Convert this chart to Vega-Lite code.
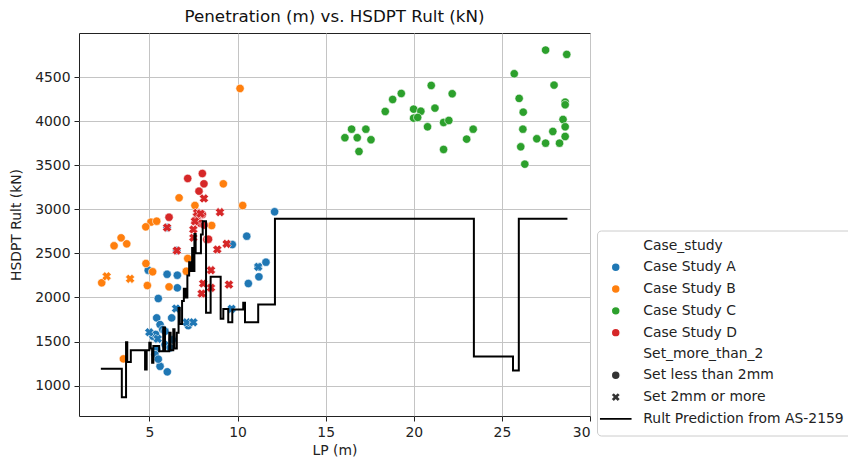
{
  "$schema": "https://vega.github.io/schema/vega-lite/v6.json",
  "width": 511,
  "height": 383,
  "autosize": "none",
  "padding": {"left": 79, "top": 33, "right": 258, "bottom": 47},
  "background": "white",
  "title": {"text": "Penetration (m) vs. HSDPT Rult (kN)", "font": "DejaVu Sans", "fontSize": 16.7, "fontWeight": "normal", "color": "#111", "offset": 7},
  "config": {
    "view": {"stroke": "#222", "strokeWidth": 1},
    "axis": {"labelFont": "DejaVu Sans", "labelFontSize": 13.9, "labelColor": "#222", "titleFont": "DejaVu Sans", "titleFontSize": 13.9, "titleFontWeight": "normal", "titleColor": "#222", "tickColor": "#222", "tickSize": 5, "domain": false, "gridColor": "#c4c4c4", "gridWidth": 1, "labelPadding": 4}
  },
  "datasets": {
    "points": [
      {"LP": 4.93, "Rult": 2309, "Case": "Case Study A", "Set": "Set less than 2mm"},
      {"LP": 6.00, "Rult": 2263, "Case": "Case Study A", "Set": "Set less than 2mm"},
      {"LP": 6.58, "Rult": 2252, "Case": "Case Study A", "Set": "Set less than 2mm"},
      {"LP": 6.58, "Rult": 2109, "Case": "Case Study A", "Set": "Set less than 2mm"},
      {"LP": 5.50, "Rult": 1988, "Case": "Case Study A", "Set": "Set less than 2mm"},
      {"LP": 5.41, "Rult": 1768, "Case": "Case Study A", "Set": "Set less than 2mm"},
      {"LP": 6.26, "Rult": 1768, "Case": "Case Study A", "Set": "Set less than 2mm"},
      {"LP": 5.60, "Rult": 1692, "Case": "Case Study A", "Set": "Set less than 2mm"},
      {"LP": 5.75, "Rult": 1636, "Case": "Case Study A", "Set": "Set less than 2mm"},
      {"LP": 5.88, "Rult": 1465, "Case": "Case Study A", "Set": "Set less than 2mm"},
      {"LP": 5.41, "Rult": 1409, "Case": "Case Study A", "Set": "Set less than 2mm"},
      {"LP": 5.31, "Rult": 1352, "Case": "Case Study A", "Set": "Set less than 2mm"},
      {"LP": 5.60, "Rult": 1219, "Case": "Case Study A", "Set": "Set less than 2mm"},
      {"LP": 6.01, "Rult": 1156, "Case": "Case Study A", "Set": "Set less than 2mm"},
      {"LP": 6.00, "Rult": 2793, "Case": "Case Study A", "Set": "Set less than 2mm"},
      {"LP": 6.55, "Rult": 2532, "Case": "Case Study A", "Set": "Set less than 2mm"},
      {"LP": 12.10, "Rult": 2972, "Case": "Case Study A", "Set": "Set less than 2mm"},
      {"LP": 10.52, "Rult": 2695, "Case": "Case Study A", "Set": "Set less than 2mm"},
      {"LP": 9.70, "Rult": 2600, "Case": "Case Study A", "Set": "Set less than 2mm"},
      {"LP": 11.61, "Rult": 2400, "Case": "Case Study A", "Set": "Set less than 2mm"},
      {"LP": 11.17, "Rult": 2347, "Case": "Case Study A", "Set": "Set less than 2mm"},
      {"LP": 11.21, "Rult": 2234, "Case": "Case Study A", "Set": "Set less than 2mm"},
      {"LP": 10.61, "Rult": 2158, "Case": "Case Study A", "Set": "Set less than 2mm"},
      {"LP": 6.17, "Rult": 1428, "Case": "Case Study A", "Set": "Set less than 2mm"},
      {"LP": 5.88, "Rult": 1616, "Case": "Case Study A", "Set": "Set less than 2mm"},
      {"LP": 5.20, "Rult": 1560, "Case": "Case Study A", "Set": "Set less than 2mm"},
      {"LP": 5.50, "Rult": 1300, "Case": "Case Study A", "Set": "Set less than 2mm"},
      {"LP": 6.30, "Rult": 1520, "Case": "Case Study A", "Set": "Set less than 2mm"},
      {"LP": 5.35, "Rult": 1580, "Case": "Case Study A", "Set": "Set less than 2mm"},
      {"LP": 7.20, "Rult": 1680, "Case": "Case Study A", "Set": "Set less than 2mm"},
      {"LP": 6.51, "Rult": 1874, "Case": "Case Study A", "Set": "Set 2mm or more"},
      {"LP": 4.99, "Rult": 1605, "Case": "Case Study A", "Set": "Set 2mm or more"},
      {"LP": 7.11, "Rult": 1718, "Case": "Case Study A", "Set": "Set 2mm or more"},
      {"LP": 7.49, "Rult": 1718, "Case": "Case Study A", "Set": "Set 2mm or more"},
      {"LP": 5.47, "Rult": 1530, "Case": "Case Study A", "Set": "Set 2mm or more"},
      {"LP": 11.17, "Rult": 2347, "Case": "Case Study A", "Set": "Set 2mm or more"},
      {"LP": 9.66, "Rult": 1871, "Case": "Case Study A", "Set": "Set 2mm or more"},
      {"LP": 2.29, "Rult": 2166, "Case": "Case Study B", "Set": "Set less than 2mm"},
      {"LP": 4.88, "Rult": 2135, "Case": "Case Study B", "Set": "Set less than 2mm"},
      {"LP": 6.11, "Rult": 2120, "Case": "Case Study B", "Set": "Set less than 2mm"},
      {"LP": 4.80, "Rult": 2385, "Case": "Case Study B", "Set": "Set less than 2mm"},
      {"LP": 5.18, "Rult": 2291, "Case": "Case Study B", "Set": "Set less than 2mm"},
      {"LP": 7.09, "Rult": 2297, "Case": "Case Study B", "Set": "Set less than 2mm"},
      {"LP": 7.17, "Rult": 2442, "Case": "Case Study B", "Set": "Set less than 2mm"},
      {"LP": 3.39, "Rult": 2676, "Case": "Case Study B", "Set": "Set less than 2mm"},
      {"LP": 3.71, "Rult": 2608, "Case": "Case Study B", "Set": "Set less than 2mm"},
      {"LP": 2.99, "Rult": 2586, "Case": "Case Study B", "Set": "Set less than 2mm"},
      {"LP": 5.08, "Rult": 2854, "Case": "Case Study B", "Set": "Set less than 2mm"},
      {"LP": 5.41, "Rult": 2865, "Case": "Case Study B", "Set": "Set less than 2mm"},
      {"LP": 4.79, "Rult": 2801, "Case": "Case Study B", "Set": "Set less than 2mm"},
      {"LP": 6.68, "Rult": 3130, "Case": "Case Study B", "Set": "Set less than 2mm"},
      {"LP": 7.58, "Rult": 3043, "Case": "Case Study B", "Set": "Set less than 2mm"},
      {"LP": 9.19, "Rult": 3289, "Case": "Case Study B", "Set": "Set less than 2mm"},
      {"LP": 10.29, "Rult": 3043, "Case": "Case Study B", "Set": "Set less than 2mm"},
      {"LP": 8.53, "Rult": 2816, "Case": "Case Study B", "Set": "Set less than 2mm"},
      {"LP": 10.14, "Rult": 4371, "Case": "Case Study B", "Set": "Set less than 2mm"},
      {"LP": 3.52, "Rult": 1303, "Case": "Case Study B", "Set": "Set less than 2mm"},
      {"LP": 2.57, "Rult": 2240, "Case": "Case Study B", "Set": "Set 2mm or more"},
      {"LP": 3.90, "Rult": 2211, "Case": "Case Study B", "Set": "Set 2mm or more"},
      {"LP": 27.48, "Rult": 4806, "Case": "Case Study C", "Set": "Set less than 2mm"},
      {"LP": 28.68, "Rult": 4757, "Case": "Case Study C", "Set": "Set less than 2mm"},
      {"LP": 25.70, "Rult": 4538, "Case": "Case Study C", "Set": "Set less than 2mm"},
      {"LP": 20.99, "Rult": 4405, "Case": "Case Study C", "Set": "Set less than 2mm"},
      {"LP": 27.96, "Rult": 4409, "Case": "Case Study C", "Set": "Set less than 2mm"},
      {"LP": 19.29, "Rult": 4314, "Case": "Case Study C", "Set": "Set less than 2mm"},
      {"LP": 22.18, "Rult": 4311, "Case": "Case Study C", "Set": "Set less than 2mm"},
      {"LP": 18.80, "Rult": 4246, "Case": "Case Study C", "Set": "Set less than 2mm"},
      {"LP": 25.98, "Rult": 4258, "Case": "Case Study C", "Set": "Set less than 2mm"},
      {"LP": 28.59, "Rult": 4216, "Case": "Case Study C", "Set": "Set less than 2mm"},
      {"LP": 28.59, "Rult": 4186, "Case": "Case Study C", "Set": "Set less than 2mm"},
      {"LP": 18.38, "Rult": 4110, "Case": "Case Study C", "Set": "Set less than 2mm"},
      {"LP": 19.99, "Rult": 4136, "Case": "Case Study C", "Set": "Set less than 2mm"},
      {"LP": 20.40, "Rult": 4113, "Case": "Case Study C", "Set": "Set less than 2mm"},
      {"LP": 21.20, "Rult": 4148, "Case": "Case Study C", "Set": "Set less than 2mm"},
      {"LP": 26.21, "Rult": 4102, "Case": "Case Study C", "Set": "Set less than 2mm"},
      {"LP": 19.99, "Rult": 4034, "Case": "Case Study C", "Set": "Set less than 2mm"},
      {"LP": 20.22, "Rult": 4042, "Case": "Case Study C", "Set": "Set less than 2mm"},
      {"LP": 21.69, "Rult": 3985, "Case": "Case Study C", "Set": "Set less than 2mm"},
      {"LP": 21.99, "Rult": 4008, "Case": "Case Study C", "Set": "Set less than 2mm"},
      {"LP": 28.47, "Rult": 4019, "Case": "Case Study C", "Set": "Set less than 2mm"},
      {"LP": 20.78, "Rult": 3936, "Case": "Case Study C", "Set": "Set less than 2mm"},
      {"LP": 28.59, "Rult": 3936, "Case": "Case Study C", "Set": "Set less than 2mm"},
      {"LP": 16.47, "Rult": 3909, "Case": "Case Study C", "Set": "Set less than 2mm"},
      {"LP": 17.28, "Rult": 3909, "Case": "Case Study C", "Set": "Set less than 2mm"},
      {"LP": 23.37, "Rult": 3909, "Case": "Case Study C", "Set": "Set less than 2mm"},
      {"LP": 26.19, "Rult": 3909, "Case": "Case Study C", "Set": "Set less than 2mm"},
      {"LP": 27.89, "Rult": 3883, "Case": "Case Study C", "Set": "Set less than 2mm"},
      {"LP": 16.09, "Rult": 3812, "Case": "Case Study C", "Set": "Set less than 2mm"},
      {"LP": 16.79, "Rult": 3812, "Case": "Case Study C", "Set": "Set less than 2mm"},
      {"LP": 17.57, "Rult": 3789, "Case": "Case Study C", "Set": "Set less than 2mm"},
      {"LP": 23.00, "Rult": 3796, "Case": "Case Study C", "Set": "Set less than 2mm"},
      {"LP": 26.98, "Rult": 3800, "Case": "Case Study C", "Set": "Set less than 2mm"},
      {"LP": 28.59, "Rult": 3826, "Case": "Case Study C", "Set": "Set less than 2mm"},
      {"LP": 27.48, "Rult": 3750, "Case": "Case Study C", "Set": "Set less than 2mm"},
      {"LP": 28.27, "Rult": 3750, "Case": "Case Study C", "Set": "Set less than 2mm"},
      {"LP": 26.07, "Rult": 3709, "Case": "Case Study C", "Set": "Set less than 2mm"},
      {"LP": 16.89, "Rult": 3656, "Case": "Case Study C", "Set": "Set less than 2mm"},
      {"LP": 21.69, "Rult": 3679, "Case": "Case Study C", "Set": "Set less than 2mm"},
      {"LP": 26.30, "Rult": 3512, "Case": "Case Study C", "Set": "Set less than 2mm"},
      {"LP": 7.17, "Rult": 3350, "Case": "Case Study D", "Set": "Set less than 2mm"},
      {"LP": 8.00, "Rult": 3406, "Case": "Case Study D", "Set": "Set less than 2mm"},
      {"LP": 8.09, "Rult": 3289, "Case": "Case Study D", "Set": "Set less than 2mm"},
      {"LP": 7.81, "Rult": 3206, "Case": "Case Study D", "Set": "Set less than 2mm"},
      {"LP": 6.11, "Rult": 2910, "Case": "Case Study D", "Set": "Set less than 2mm"},
      {"LP": 8.00, "Rult": 2941, "Case": "Case Study D", "Set": "Set less than 2mm"},
      {"LP": 8.25, "Rult": 2657, "Case": "Case Study D", "Set": "Set less than 2mm"},
      {"LP": 7.60, "Rult": 2860, "Case": "Case Study D", "Set": "Set less than 2mm"},
      {"LP": 7.90, "Rult": 2840, "Case": "Case Study D", "Set": "Set less than 2mm"},
      {"LP": 8.10, "Rult": 2820, "Case": "Case Study D", "Set": "Set less than 2mm"},
      {"LP": 8.35, "Rult": 2660, "Case": "Case Study D", "Set": "Set less than 2mm"},
      {"LP": 8.09, "Rult": 3123, "Case": "Case Study D", "Set": "Set 2mm or more"},
      {"LP": 9.00, "Rult": 2967, "Case": "Case Study D", "Set": "Set 2mm or more"},
      {"LP": 7.68, "Rult": 2922, "Case": "Case Study D", "Set": "Set 2mm or more"},
      {"LP": 7.58, "Rult": 2865, "Case": "Case Study D", "Set": "Set 2mm or more"},
      {"LP": 7.49, "Rult": 2771, "Case": "Case Study D", "Set": "Set 2mm or more"},
      {"LP": 7.49, "Rult": 2677, "Case": "Case Study D", "Set": "Set 2mm or more"},
      {"LP": 9.38, "Rult": 2608, "Case": "Case Study D", "Set": "Set 2mm or more"},
      {"LP": 8.85, "Rult": 2544, "Case": "Case Study D", "Set": "Set 2mm or more"},
      {"LP": 8.49, "Rult": 2309, "Case": "Case Study D", "Set": "Set 2mm or more"},
      {"LP": 8.05, "Rult": 2158, "Case": "Case Study D", "Set": "Set 2mm or more"},
      {"LP": 8.49, "Rult": 2109, "Case": "Case Study D", "Set": "Set 2mm or more"},
      {"LP": 9.51, "Rult": 2146, "Case": "Case Study D", "Set": "Set 2mm or more"},
      {"LP": 7.96, "Rult": 2044, "Case": "Case Study D", "Set": "Set 2mm or more"},
      {"LP": 6.00, "Rult": 2793, "Case": "Case Study D", "Set": "Set 2mm or more"},
      {"LP": 6.55, "Rult": 2532, "Case": "Case Study D", "Set": "Set 2mm or more"},
      {"LP": 7.70, "Rult": 2960, "Case": "Case Study D", "Set": "Set 2mm or more"},
      {"LP": 7.90, "Rult": 2950, "Case": "Case Study D", "Set": "Set 2mm or more"}
    ],
    "line": [
      {"LP": 2.24, "Rult": 1190},
      {"LP": 3.43, "Rult": 867},
      {"LP": 3.67, "Rult": 1491},
      {"LP": 3.74, "Rult": 1269},
      {"LP": 3.94, "Rult": 1401},
      {"LP": 4.75, "Rult": 1182},
      {"LP": 4.84, "Rult": 1401},
      {"LP": 4.99, "Rult": 1485},
      {"LP": 5.07, "Rult": 1420},
      {"LP": 5.15, "Rult": 1260},
      {"LP": 5.22, "Rult": 1450},
      {"LP": 5.55, "Rult": 1390},
      {"LP": 5.78, "Rult": 1660},
      {"LP": 5.88, "Rult": 1390},
      {"LP": 6.12, "Rult": 1600},
      {"LP": 6.20, "Rult": 1400},
      {"LP": 6.35, "Rult": 1640},
      {"LP": 6.42, "Rult": 1420},
      {"LP": 6.55, "Rult": 1600},
      {"LP": 6.65, "Rult": 1880},
      {"LP": 6.72, "Rult": 1700},
      {"LP": 6.85, "Rult": 1960},
      {"LP": 6.95, "Rult": 2100},
      {"LP": 7.05, "Rult": 2000},
      {"LP": 7.15, "Rult": 2250},
      {"LP": 7.25, "Rult": 2400},
      {"LP": 7.32, "Rult": 2300},
      {"LP": 7.42, "Rult": 2560},
      {"LP": 7.48, "Rult": 2300},
      {"LP": 7.55, "Rult": 2720},
      {"LP": 7.62, "Rult": 2500},
      {"LP": 7.92, "Rult": 2714},
      {"LP": 8.02, "Rult": 2865},
      {"LP": 8.21, "Rult": 1825},
      {"LP": 8.47, "Rult": 2234},
      {"LP": 9.04, "Rult": 1757},
      {"LP": 9.19, "Rult": 1870},
      {"LP": 9.47, "Rult": 1718},
      {"LP": 9.70, "Rult": 1863},
      {"LP": 10.32, "Rult": 1940},
      {"LP": 10.42, "Rult": 1718},
      {"LP": 11.17, "Rult": 1919},
      {"LP": 12.12, "Rult": 2892},
      {"LP": 23.41, "Rult": 1330},
      {"LP": 25.63, "Rult": 1170},
      {"LP": 25.96, "Rult": 2892},
      {"LP": 28.72, "Rult": 2892}
    ]
  },
  "layer": [
    {
      "data": {"name": "points"},
      "mark": {"type": "point", "filled": true, "opacity": 1, "stroke": "white", "strokeWidth": 0.6, "size": 70},
      "encoding": {
        "x": {"field": "LP", "type": "quantitative", "scale": {"domain": [1, 30], "nice": false, "zero": false},
              "axis": {"values": [5, 10, 15, 20, 25, 30], "title": "LP (m)", "titlePadding": 5}},
        "y": {"field": "Rult", "type": "quantitative", "scale": {"domain": [655, 5000], "nice": false, "zero": false},
              "axis": {"values": [1000, 1500, 2000, 2500, 3000, 3500, 4000, 4500], "format": "d", "title": "HSDPT Rult (kN)", "titlePadding": 11}},
        "color": {"field": "Case", "type": "nominal",
                  "scale": {"domain": ["Case Study A", "Case Study B", "Case Study C", "Case Study D"], "range": ["#1f77b4", "#ff7f0e", "#2ca02c", "#d62728"]},
                  "legend": null},
        "shape": {"field": "Set", "type": "nominal",
                  "scale": {"domain": ["Case_study", "Case Study A", "Case Study B", "Case Study C", "Case Study D", "Set_more_than_2", "Set less than 2mm", "Set 2mm or more", "Rult Prediction from AS-2159"],
                            "range": ["circle", "circle", "circle", "circle", "circle", "circle", "circle",
                                      "M-1.1,-0.44L-0.44,-1.1L0,-0.66L0.44,-1.1L1.1,-0.44L0.66,0L1.1,0.44L0.44,1.1L0,0.66L-0.44,1.1L-1.1,0.44L-0.66,0Z",
                                      "M-3.7,-0.36L3.7,-0.36L3.7,0.36L-3.7,0.36Z"]},
                  "legend": {
                    "orient": "none", "legendX": 518, "legendY": 197.5, "title": null,
                    "padding": 9, "strokeColor": "#cccccc", "fillColor": "white", "cornerRadius": 4,
                    "labelFont": "DejaVu Sans", "labelFontSize": 13.9, "labelColor": "#222", "labelLimit": 400,
                    "symbolSize": 80, "symbolOffset": 2.8, "labelOffset": 20.6, "rowPadding": 5.8,
                    "symbolFillColor": {"expr": "datum.value == 'Case Study A' ? '#1f77b4' : datum.value == 'Case Study B' ? '#ff7f0e' : datum.value == 'Case Study C' ? '#2ca02c' : datum.value == 'Case Study D' ? '#d62728' : datum.value == 'Rult Prediction from AS-2159' ? '#000000' : '#333333'"},
                    "symbolOpacity": {"expr": "datum.value == 'Case_study' || datum.value == 'Set_more_than_2' ? 0 : 1"}
                  }}
      }
    },
    {
      "data": {"name": "line"},
      "mark": {"type": "line", "interpolate": "step-after", "color": "black", "strokeWidth": 2},
      "encoding": {
        "x": {"field": "LP", "type": "quantitative"},
        "y": {"field": "Rult", "type": "quantitative"}
      }
    }
  ]
}
